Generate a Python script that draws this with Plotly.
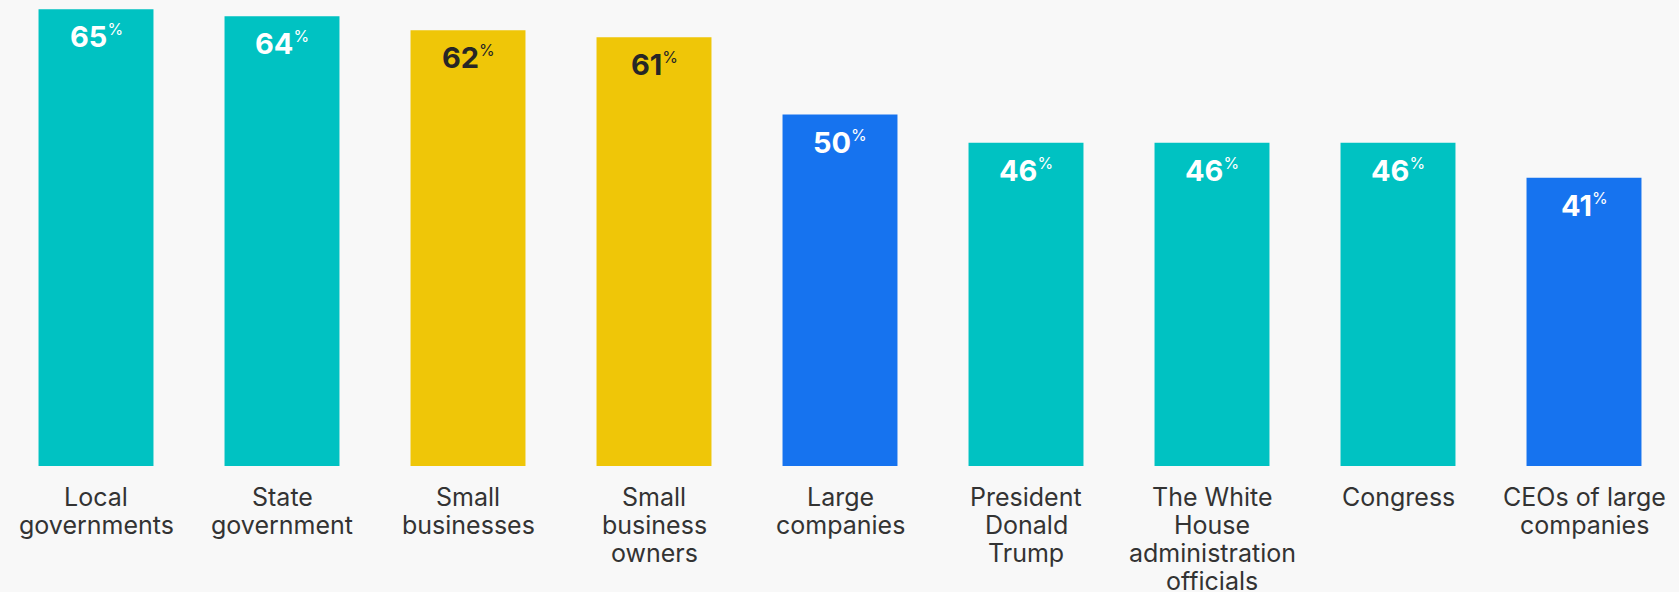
import plotly.graph_objects as go

categories = ["Local<br>governments", "State<br>government", "Small<br>businesses",
              "Small<br>business<br>owners", "Large<br>companies", "President<br>Donald<br>Trump",
              "The White<br>House<br>administration<br>officials", "Congress", "CEOs of large<br>companies"]
values = [65, 64, 62, 61, 50, 46, 46, 46, 41]
groups = ["gov", "gov", "small", "small", "large", "gov", "gov", "gov", "large"]

TEAL = "#00c2c2"
YELLOW = "#efc608"
BLUE = "#1673ef"
BG = "#f8f8f8"
color_map = {"gov": TEAL, "small": YELLOW, "large": BLUE}
text_color_map = {"gov": "#ffffff", "small": "#262626", "large": "#ffffff"}

FONT = "Inter"
x_idx = list(range(len(categories)))

fig = go.Figure()
fig.add_trace(go.Bar(
    x=x_idx, y=values,
    marker=dict(color=[color_map[g] for g in groups], line=dict(width=0)),
    hoverinfo="skip",
))

annotations = []
for i, (v, g) in enumerate(zip(values, groups)):
    annotations.append(dict(
        x=i, y=v, xref="x", yref="y", yanchor="top", xanchor="center",
        yshift=-8, showarrow=False,
        text=f"<b>{v}</b><sup><span style='font-size:16px'>%</span></sup>",
        font=dict(family=FONT, size=29, color=text_color_map[g]),
    ))
    for j, line in enumerate(categories[i].split("<br>")):
        annotations.append(dict(
            x=i, y=0, xref="x", yref="y", yanchor="top", xanchor="center",
            yshift=-14 - 28 * j, showarrow=False,
            text=line,
            font=dict(family=FONT, size=25, color="#333333"),
        ))

fig.update_layout(
    width=1679, height=592,
    margin=dict(l=3, r=2, t=0, b=126, pad=0),
    paper_bgcolor=BG, plot_bgcolor=BG,
    bargap=0.382,
    showlegend=False,
    xaxis=dict(range=[-0.5, 8.5], visible=False, fixedrange=True),
    yaxis=dict(range=[0, 66.3], visible=False, fixedrange=True),
    annotations=annotations,
)

fig.write_html("out.html")
